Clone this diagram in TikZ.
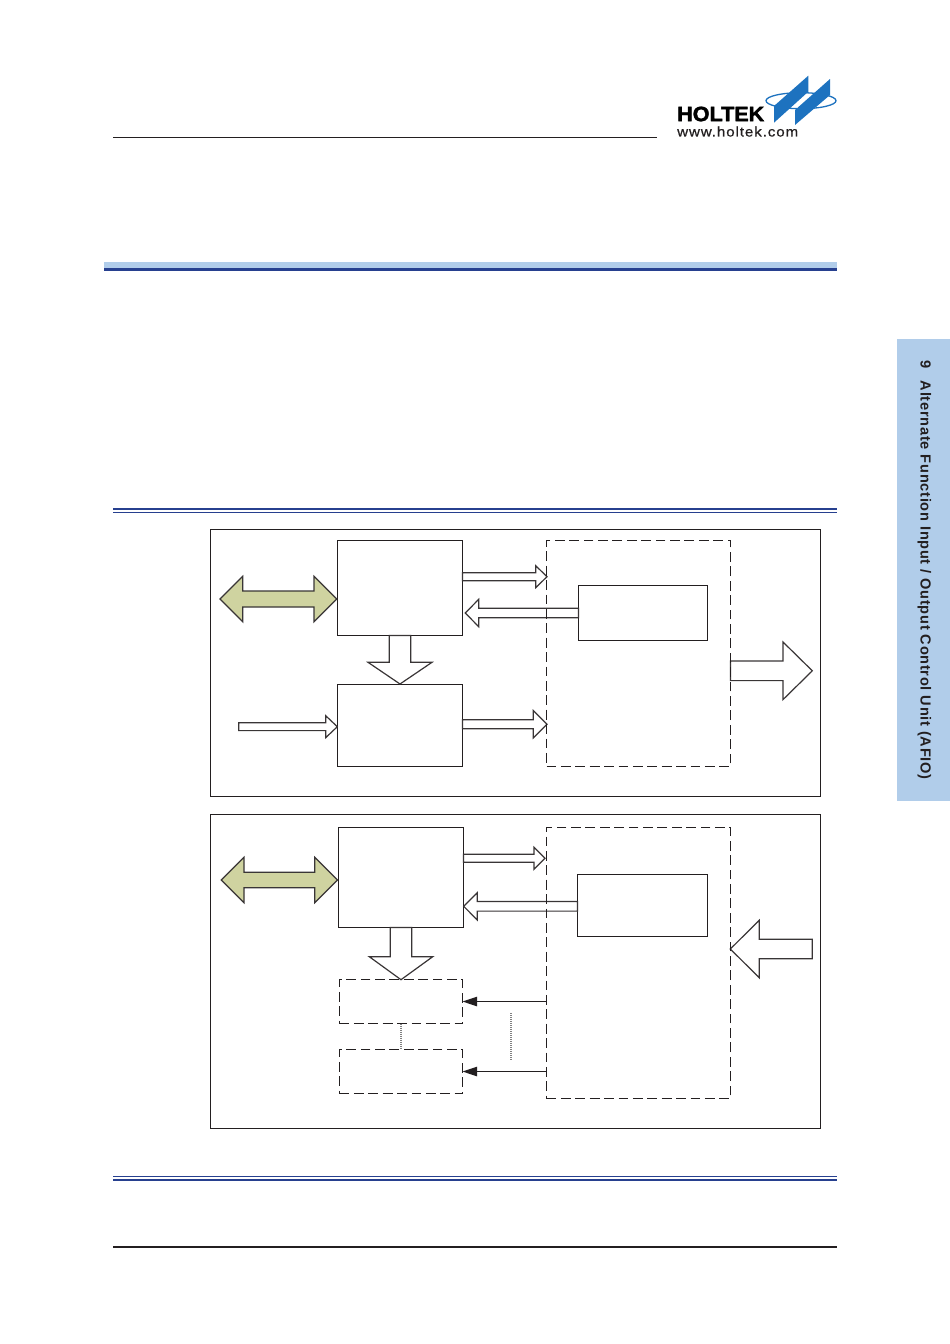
\documentclass[tikz,border=0pt]{standalone}
\usepackage{fontspec}
\usepackage{graphicx}
\setmainfont{Liberation Sans}
\usetikzlibrary{calc,arrows.meta}

\definecolor{tabblue}{HTML}{B1CDEA}
\definecolor{ruleblue}{HTML}{27408F}
\definecolor{logoblue}{HTML}{1D72BF}
\definecolor{busgreen}{HTML}{CFD3A0}
\definecolor{inkgray}{HTML}{231F20}

\tikzset{
  panel/.style={draw=inkgray, line width=1.2pt, inner sep=0pt, outer sep=0pt, anchor=north west},
  blockbox/.style={panel, fill=white},
  dashbox/.style={panel, line width=1.5pt, dash pattern=on 9.8pt off 4.6pt},
  fatline/.style={draw=inkgray!90, line width=1.2pt, line join=miter},
  sigline/.style={draw=inkgray, line width=1.1pt, -{Triangle[length=14.7pt,width=9.5pt]}},
  dotline/.style={draw=gray, line width=1.5pt, dash pattern=on 1pt off 1pt},
  hrule/.style={fill=#1, draw=none}
}

% from, to, shaft half, head half, head length
\newcommand{\fatarrow}[5]{
  \coordinate (hb) at ($(#2)!#5pt!(#1)$);
  \draw[fatline, fill=white] ($(#1)!#3pt!90:(#2)$) -- ($(hb)!#3pt!90:(#2)$) -- ($(hb)!#4pt!90:(#2)$)
    -- (#2) -- ($(hb)!#4pt!-90:(#2)$) -- ($(hb)!#3pt!-90:(#2)$) -- ($(#1)!#3pt!-90:(#2)$) -- cycle;
}
% tip, tip, shaft half, head half, head length
\newcommand{\busarrow}[5]{
  \coordinate (ha) at ($(#1)!#5pt!(#2)$);
  \coordinate (hb) at ($(#2)!#5pt!(#1)$);
  \draw[fatline, fill=busgreen] (#1) -- ($(ha)!#4pt!90:(#2)$) -- ($(ha)!#3pt!90:(#2)$) -- ($(hb)!#3pt!-90:(#1)$)
    -- ($(hb)!#4pt!-90:(#1)$) -- (#2) -- ($(hb)!#4pt!90:(#1)$) -- ($(hb)!#3pt!90:(#1)$)
    -- ($(ha)!#3pt!-90:(#2)$) -- ($(ha)!#4pt!-90:(#2)$) -- cycle;
}

\begin{document}
\begin{tikzpicture}[x=1pt, y=-1pt]
\useasboundingbox (0,0) rectangle (950,1344);

% page furniture
\fill[hrule=inkgray] (113,137) rectangle (657,138);
\fill[hrule=tabblue] (104,262) rectangle (837,268);
\fill[hrule=ruleblue] (104,268) rectangle (837,271);
\fill[hrule=ruleblue] (113,508) rectangle (837,510.4);
\fill[hrule=ruleblue] (113,512) rectangle (837,513);
\fill[hrule=ruleblue] (113,1176) rectangle (837,1177);
\fill[hrule=ruleblue] (113,1179) rectangle (837,1181);
\fill[hrule=inkgray] (113,1246) rectangle (837,1248);

\fill[hrule=tabblue] (897,339) rectangle (950,801);
\node[rotate=-90, text=inkgray, inner sep=0pt] (tabtext) at (924.5,570)
  {\fontsize{14.6}{16}\selectfont\bfseries\addfontfeature{LetterSpace=5}9\hspace{0.5em} Alternate Function Input / Output Control Unit (AFIO)};

% logo
\draw[logoblue, line width=1.3pt] (801,100.7) ellipse (35 and 8);
\fill[logoblue] (774,106) -- (808.3,75.7) -- (808.3,91.7) -- (774,122.7) -- cycle;
\fill[logoblue] (795,110) -- (830,79) -- (830,95) -- (795,125) -- cycle;
\node[inner sep=0pt, anchor=west, text=black] (logoname) at (677,114)
  {\resizebox{87pt}{14.5pt}{\bfseries\addfontfeature{FakeBold=2}HOLTEK}};
\node[inner sep=0pt, anchor=south west, text=inkgray] (logourl) at (677,136.8)
  {\resizebox{121pt}{10pt}{\addfontfeature{FakeBold=0.6,LetterSpace=6}www.holtek.com}};

% upper panel
\node[panel, minimum width=610pt, minimum height=267pt] (upper) at (210.5,529.5) {};
\node[blockbox, minimum width=125pt, minimum height=95pt] (regA) at (337.5,540.5) {};
\node[blockbox, minimum width=125pt, minimum height=82pt] (regB) at (337.5,684.5) {};
\node[blockbox, minimum width=129pt, minimum height=55pt] (inA) at (578.5,585.5) {};

\coordinate (busAl) at (220,599);
\coordinate (busAr) at (336.7,599);
\busarrow{busAl}{busAr}{8}{22.8}{22.7}

\coordinate (wrAs) at (462.5,576.7);
\coordinate (wrAt) at (547,576.7);
\fatarrow{wrAs}{wrAt}{4}{11}{11.3}
\coordinate (rdAs) at (578.5,613);
\coordinate (rdAt) at (465.3,613);
\fatarrow{rdAs}{rdAt}{4.7}{13.7}{13.4}
\coordinate (dnAs) at (400,635.5);
\coordinate (dnAt) at (400,684);
\fatarrow{dnAs}{dnAt}{10.7}{32}{21.7}
\coordinate (clkAs) at (238.7,726.7);
\coordinate (clkAt) at (337.3,726.7);
\fatarrow{clkAs}{clkAt}{3.9}{11}{11.6}
\coordinate (wrBs) at (462.5,724.3);
\coordinate (wrBt) at (547,724.3);
\fatarrow{wrBs}{wrBt}{4.5}{13.7}{13.7}
\coordinate (outAs) at (730.5,670.8);
\coordinate (outAt) at (812.3,670.8);
\fatarrow{outAs}{outAt}{9.8}{28.8}{29.3}

\node[dashbox, minimum width=184pt, minimum height=226pt] (fifoA) at (546.5,540.5) {};

% lower panel
\node[panel, minimum width=610pt, minimum height=314pt] (lower) at (210.5,814.5) {};
\node[blockbox, minimum width=125pt, minimum height=100pt] (regC) at (338.5,827.5) {};
\node[blockbox, minimum width=130pt, minimum height=62pt] (inB) at (577.5,874.5) {};
\node[dashbox, minimum width=123pt, minimum height=44pt] (latD) at (339.5,979.5) {};
\node[dashbox, minimum width=123pt, minimum height=44pt] (latE) at (339.5,1049.5) {};

\coordinate (busBl) at (221.3,880);
\coordinate (busBr) at (337.5,880);
\busarrow{busBl}{busBr}{7.7}{22.7}{22.7}

\coordinate (wrCs) at (463.5,858.3);
\coordinate (wrCt) at (545,858.3);
\fatarrow{wrCs}{wrCt}{4}{11}{11}
\coordinate (rdCs) at (577.5,906.3);
\coordinate (rdCt) at (463.7,906.3);
\fatarrow{rdCs}{rdCt}{4.8}{13.7}{13.6}
\coordinate (dnCs) at (401,927.5);
\coordinate (dnCt) at (401,979.7);
\fatarrow{dnCs}{dnCt}{10.7}{31.7}{23}
\coordinate (inBs) at (812.3,949);
\coordinate (inBt) at (730.3,949);
\fatarrow{inBs}{inBt}{9.7}{28.8}{29}

\node[dashbox, minimum width=184pt, minimum height=271pt] (fifoB) at (546.5,827.5) {};

\draw[sigline] (fifoB.west |- latD) -- (latD.east);
\draw[sigline] (fifoB.west |- latE) -- (latE.east);
\draw[dotline] (latD.south) -- (latE.north);
\coordinate (dotT) at (511,1013.3);
\coordinate (dotB) at (511,1060.7);
\draw[dotline] (dotT) -- (dotB);

\end{tikzpicture}
\end{document}
